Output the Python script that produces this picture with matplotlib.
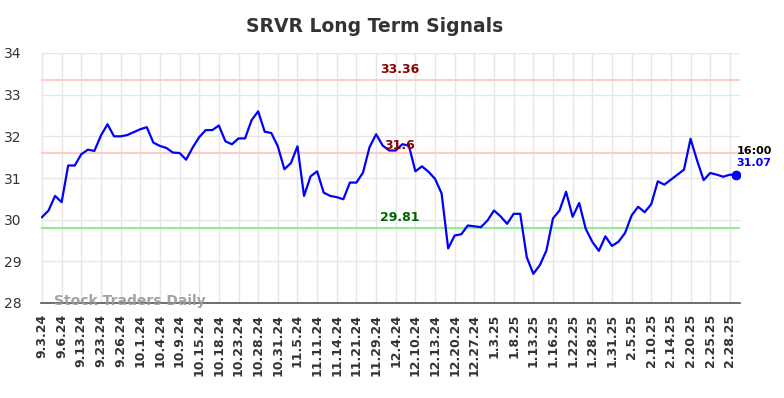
import matplotlib
matplotlib.use("Agg")
import matplotlib.pyplot as plt

title = "SRVR Long Term Signals"
prices = [30.06, 30.22, 30.57, 30.42, 31.30, 31.30, 31.57, 31.68, 31.65, 32.02,
          32.29, 32.00, 32.00, 32.03, 32.10, 32.17, 32.22, 31.85, 31.77, 31.72,
          31.61, 31.60, 31.44, 31.73, 31.98, 32.15, 32.15, 32.26, 31.88, 31.81,
          31.95, 31.95, 32.39, 32.60, 32.11, 32.08, 31.76, 31.21, 31.36, 31.76,
          30.57, 31.04, 31.16, 30.65, 30.57, 30.54, 30.49, 30.89, 30.89, 31.13,
          31.74, 32.05, 31.78, 31.66, 31.66, 31.81, 31.78, 31.16, 31.28, 31.15,
          30.98, 30.63, 29.31, 29.62, 29.65, 29.86, 29.84, 29.82, 29.98, 30.22,
          30.08, 29.90, 30.14, 30.14, 29.10, 28.70, 28.91, 29.26, 30.03, 30.22,
          30.67, 30.07, 30.40, 29.78, 29.47, 29.25, 29.60, 29.37, 29.47, 29.68,
          30.10, 30.31, 30.18, 30.37, 30.92, 30.84, 30.96, 31.08, 31.20, 31.94,
          31.42, 30.95, 31.12, 31.08, 31.03, 31.08, 31.07]
tick_labels = ["9.3.24", "9.6.24", "9.13.24", "9.23.24", "9.26.24", "10.1.24",
               "10.4.24", "10.9.24", "10.15.24", "10.18.24", "10.23.24", "10.28.24",
               "10.31.24", "11.5.24", "11.11.24", "11.14.24", "11.21.24", "11.29.24",
               "12.4.24", "12.10.24", "12.13.24", "12.20.24", "12.27.24", "1.3.25",
               "1.8.25", "1.13.25", "1.16.25", "1.22.25", "1.28.25", "1.31.25",
               "2.5.25", "2.10.25", "2.14.25", "2.20.25", "2.25.25", "2.28.25"]
tick_step = 3
upper_levels = [33.36, 31.6]
lower_level = 29.81
last_time = "16:00"
last_price = 31.07
y_ticks = [28, 29, 30, 31, 32, 33, 34]

n = len(prices)
xs = list(range(n))

fig = plt.figure(figsize=(7.84, 3.98), dpi=100)
ax = fig.add_axes([41/784, 1-303/398, (740-41)/784, (303-53)/398])

ax.set_xlim(-0.15, n - 1 + 0.55)
ax.set_ylim(28, 34)

ax.grid(True, color="#e6e6e6", linewidth=1)
ax.set_axisbelow(True)

for lv in upper_levels:
    ax.axhline(lv, color="#ffcccc", linewidth=1.5, zorder=1)
ax.axhline(lower_level, color="#90ee90", linewidth=1.5, zorder=1)

ax.plot(xs, prices, color="#0000ff", linewidth=1.6, zorder=3)
ax.plot(xs[-1], prices[-1], "o", color="#0000ff", markersize=6, zorder=4)

mid = (n - 1) / 2 + 1.6
ax.text(mid, upper_levels[0] + 0.08, f"{upper_levels[0]:g}", color="#8b0000",
        fontsize=9, fontweight="bold", ha="center", va="bottom")
ax.text(mid, upper_levels[1] + 0.03, f"{upper_levels[1]:g}", color="#8b0000",
        fontsize=9, fontweight="bold", ha="center", va="bottom")
ax.text(mid, lower_level + 0.08, f"{lower_level:g}", color="#006400",
        fontsize=9, fontweight="bold", ha="center", va="bottom")

ax.text(xs[-1], prices[-1] + 0.17, f"{last_price:.2f}", color="#0000ff",
        fontsize=8, fontweight="bold", ha="left", va="bottom")
ax.text(xs[-1], prices[-1] + 0.47, last_time, color="black",
        fontsize=8, fontweight="bold", ha="left", va="bottom")

ax.text(0.018, -0.022, "Stock Traders Daily", transform=ax.transAxes,
        color="#999999", fontsize=10, fontweight="bold", ha="left", va="bottom",
        alpha=0.9)

ax.set_xticks(xs[::tick_step][:len(tick_labels)])
ax.set_xticklabels(tick_labels, rotation=90, fontsize=9, fontweight="bold", color="#333333")
ax.set_yticks(y_ticks)
ax.set_yticklabels([str(v) for v in y_ticks], fontsize=10, color="#333333")
ax.tick_params(axis="both", length=0, pad=8)
ax.tick_params(axis="y", pad=14)

for s in ["top", "right", "left"]:
    ax.spines[s].set_visible(False)
ax.spines["bottom"].set_color("#555555")
ax.spines["bottom"].set_linewidth(1.2)

fig.suptitle(title, x=375/784, y=1-27/398, va="center", fontsize=13.5,
             fontweight="bold", color="#333333")

fig.savefig("out.png", dpi=100)
